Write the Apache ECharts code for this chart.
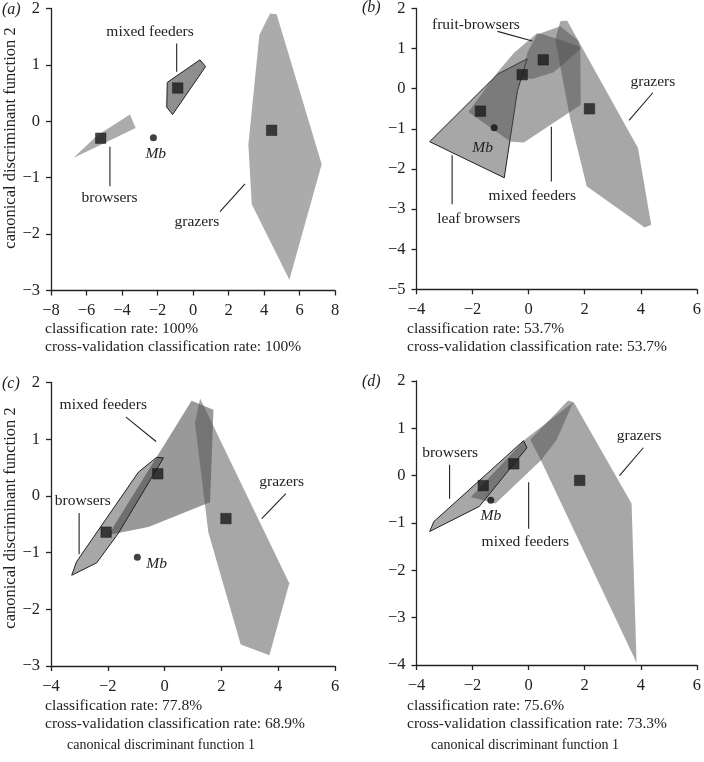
<!DOCTYPE html>
<html><head><meta charset="utf-8">
<script src="https://cdn.jsdelivr.net/npm/echarts@6/dist/echarts.min.js"></script>
<style>html,body{margin:0;padding:0;background:#fff}#c{width:704px;height:762px}</style>
</head><body><div id="c"></div>
<script>
// ---------- DATA ----------
// Panel (a)
var aBrowsers = [[-6.74,-0.65],[-5.4,-0.25],[-3.55,0.12],[-3.23,-0.12]];
var aMixed = [[-1.45,0.69],[0.39,1.09],[0.71,0.97],[-1.15,0.12],[-1.48,0.25]];
var aGrazers = [[4.34,1.91],[4.71,1.90],[7.25,-0.76],[5.43,-2.81],[3.31,-1.47],[3.12,-0.41],[3.74,1.53]];
var aCentroids = [[-5.2,-0.3],[-0.86,0.59],[4.43,-0.16]];
var aMb = [[-2.23,-0.29]];
// Panel (b)
var bLeaf = [[-3.53,-1.32],[-1.11,0.36],[-0.05,0.75],[-0.40,-0.05],[-0.87,-2.22]];
var bMixed = [[-2.15,-0.58],[-1.11,0.41],[-0.52,0.90],[0.30,1.38],[0.54,1.35],[1.84,1.05],[1.86,-0.40],[-0.17,-1.34],[-0.64,-1.32]];
var bFruit = [[-0.23,0.28],[0.13,0.24],[0.89,0.41],[1.84,0.98],[1.78,1.19],[1.13,1.56],[0.30,1.35],[-0.05,0.90]];
var bGrazers = [[1.13,1.68],[1.37,1.70],[3.90,-1.48],[4.37,-3.39],[4.14,-3.46],[2.07,-2.43],[1.48,-0.74],[0.95,1.23]];
var bCentroids = [[-1.72,-0.56],[-0.23,0.35],[0.52,0.72],[2.17,-0.50]];
var bMb = [[-1.23,-0.97]];
// Panel (c)
var cBrowsers = [[-3.27,-1.40],[-3.10,-1.16],[-0.92,0.42],[-0.28,0.68],[-0.04,0.67],[-1.63,-0.66],[-2.39,-1.18]];
var cMixed = [[-1.98,-0.69],[0.95,1.68],[1.72,1.52],[1.60,-0.11],[-0.57,-0.55]];
var cGrazers = [[1.25,1.72],[4.39,-1.54],[3.69,-2.81],[2.68,-2.62],[1.54,-0.64],[1.07,1.28]];
var cCentroids = [[-2.06,-0.64],[-0.24,0.39],[2.16,-0.40]];
var cMb = [[-0.96,-1.08]];
// Panel (d)
var dBrowsers = [[-3.53,-1.18],[-3.38,-0.97],[-0.18,0.74],[-0.06,0.59],[-1.76,-0.65]];
var dMixed = [[-2.06,-0.45],[-0.1,0.78],[1.59,1.55],[1.0,0.76],[0.45,0.33],[-1.18,-0.59]];
var dGrazers = [[0.06,0.76],[1.41,1.59],[1.61,1.55],[3.67,-0.59],[3.85,-3.95],[0.41,0.36]];
var dCentroids = [[-1.62,-0.21],[-0.53,0.25],[1.82,-0.10]];
var dMb = [[-1.35,-0.52]];

// Labels: [x, y, text]
var aLabels = [[-2.42,1.59,'mixed feeders'],[-4.7,-1.35,'browsers'],[0.22,-1.78,'grazers'],[-2.1,-0.58,'Mb']];
var bLabels = [[-1.88,1.60,'fruit-browsers'],[4.43,0.16,'grazers'],[0.13,-2.68,'mixed feeders'],[-1.78,-3.25,'leaf browsers'],[-1.64,-1.48,'Mb']];
var cLabels = [[-2.16,1.60,'mixed feeders'],[-2.88,-0.08,'browsers'],[4.12,0.25,'grazers'],[-0.28,-1.2,'Mb']];
var dLabels = [[-2.80,0.49,'browsers'],[-0.12,-1.40,'mixed feeders'],[3.94,0.83,'grazers'],[-1.35,-0.86,'Mb']];
// Leader lines
var aLeaders = [[[-0.92,1.38],[-0.92,0.88]],[[-4.68,-0.45],[-4.68,-1.15]],[[2.93,-1.11],[1.52,-1.60]]];
var bLeaders = [[[-1.11,1.43],[0.13,1.19]],[[4.43,-0.10],[3.58,-0.79]],[[0.81,-0.95],[0.81,-2.31]],[[-2.73,-1.66],[-2.73,-2.88]]];
var cLeaders = [[[-1.36,1.39],[-0.30,0.96]],[[-3.01,-0.30],[-3.01,-1.03]],[[4.27,0.04],[3.42,-0.40]]];
var dLeaders = [[[-2.82,0.23],[-2.82,-0.49]],[[0,-0.14],[0,-1.12]],[[4.09,0.59],[3.24,0.0]]];

// Axis ranges
var xRanges = [[-8,8,2],[-4,6,2],[-4,6,2],[-4,6,2]];
var yRanges = [[-3,2,1],[-5,2,1],[-3,2,1],[-4,2,1]];
var panelTags = ['(a)','(b)','(c)','(d)'];
var rateTexts = [
  ['classification rate: 100%','cross-validation classification rate: 100%'],
  ['classification rate: 53.7%','cross-validation classification rate: 53.7%'],
  ['classification rate: 77.8%','cross-validation classification rate: 68.9%'],
  ['classification rate: 75.6%','cross-validation classification rate: 73.3%']
];
var yTitle = 'canonical discriminant function 2';
var xTitle = 'canonical discriminant function 1';

// ---------- LAYOUT ----------
var FONT = '"Liberation Serif","DejaVu Serif",serif';
var grids = [
  {left:51, top:7.5, width:284, height:283},
  {left:416.5, top:5, width:283.5, height:284.3},
  {left:51, top:382.5, width:284, height:283.5},
  {left:416.5, top:381, width:283.5, height:284}
];
function minus(v){ return String(v).replace('-', '\u2212'); }

var xAxes = [], yAxes = [], series = [];
function axisStyle(m){
  return {
    axisLine:{show:true, onZero:false, lineStyle:{color:'#222', width:1.3}},
    axisTick:{show:true, inside:false, length:5, lineStyle:{color:'#222', width:1.3}},
    splitLine:{show:false},
    axisLabel:{color:'#222', fontFamily:FONT, fontSize:16.5, margin:m, formatter:minus}
  };
}
for (var i=0;i<4;i++){
  xAxes.push(Object.assign({type:'value', gridIndex:i, min:xRanges[i][0], max:xRanges[i][1], interval:xRanges[i][2]}, axisStyle(12)));
  yAxes.push(Object.assign({type:'value', gridIndex:i, min:yRanges[i][0], max:yRanges[i][1], interval:yRanges[i][2]}, axisStyle(11)));
}

function poly(gi, pts, fill, stroke, z){
  return {type:'custom', xAxisIndex:gi, yAxisIndex:gi, data:pts, silent:true, z:z||2,
    renderItem:function(params, api){
      if (params.dataIndex!==0) return null;
      var p = pts.map(function(v){ return api.coord(v); });
      return {type:'polygon', shape:{points:p}, style:{fill:fill, stroke:stroke||null, lineWidth:stroke?1:0}};
    }};
}
function leaders(gi, segs){
  segs.forEach(function(s){
    series.push({type:'line', xAxisIndex:gi, yAxisIndex:gi, data:s, symbol:'none', silent:true, z:5,
      lineStyle:{color:'#222', width:1.1}});
  });
}
function labels(gi, arr){
  series.push({type:'custom', xAxisIndex:gi, yAxisIndex:gi, data:arr.map(function(a){return [a[0],a[1]];}), silent:true, z:6,
    renderItem:function(params, api){
      var a = arr[params.dataIndex];
      var c = api.coord([a[0],a[1]]);
      return {type:'text', x:c[0], y:c[1], style:{text:a[2], fill:'#222', fontFamily:FONT, fontSize:15.5,
        fontStyle: a[2]==='Mb' ? 'italic' : 'normal', align:'center', verticalAlign:'middle'}};
    }});
}
function points(gi, cents, mb){
  series.push({type:'scatter', xAxisIndex:gi, yAxisIndex:gi, data:cents, symbol:'rect', symbolSize:10.5, silent:true, z:7,
    itemStyle:{color:'#1c1c1c', borderColor:'#111', borderWidth:0.5}});
  series.push({type:'scatter', xAxisIndex:gi, yAxisIndex:gi, data:mb, symbol:'circle', symbolSize:7, silent:true, z:7,
    itemStyle:{color:'#111'}});
}

var T = 'rgba(80,80,80,0.5)';
// (a)
series.push(poly(0, aBrowsers, '#ababab'));
series.push(poly(0, aGrazers, '#ababab'));
series.push(poly(0, aMixed, '#8e8e8e', '#222', 3));
leaders(0, aLeaders); labels(0, aLabels); points(0, aCentroids, aMb);
// (b)
series.push(poly(1, bLeaf, T, '#222', 2));
series.push(poly(1, bMixed, T, null, 2));
series.push(poly(1, bFruit, T, null, 2));
series.push(poly(1, bGrazers, T, null, 2));
leaders(1, bLeaders); labels(1, bLabels); points(1, bCentroids, bMb);
// (c)
series.push(poly(2, cMixed, 'rgba(60,60,60,0.52)', null, 2));
series.push(poly(2, cGrazers, T, null, 2));
series.push(poly(2, cBrowsers, 'rgba(60,60,60,0.45)', '#222', 3));
leaders(2, cLeaders); labels(2, cLabels); points(2, cCentroids, cMb);
// (d)
series.push(poly(3, dMixed, T, null, 2));
series.push(poly(3, dGrazers, T, null, 2));
series.push(poly(3, dBrowsers, 'rgba(60,60,60,0.45)', '#222', 3));
leaders(3, dLeaders); labels(3, dLabels); points(3, dCentroids, dMb);

// text graphics
var g = [];
var tagPos = [[10,10],[370,8],[10,384],[370,382]];
var ratePos = [[45,329],[407,329],[45,706],[407,706]];
for (var k=0;k<4;k++){
  g.push({type:'text', left:tagPos[k][0]-8, top:tagPos[k][1]-8, style:{text:panelTags[k], fontFamily:FONT, fontSize:16, fontStyle:'italic', fill:'#222'}});
  g.push({type:'text', left:ratePos[k][0], top:ratePos[k][1]-8, style:{text:rateTexts[k][0], fontFamily:FONT, fontSize:15.5, fill:'#222'}});
  g.push({type:'text', left:ratePos[k][0], top:ratePos[k][1]+10, style:{text:rateTexts[k][1], fontFamily:FONT, fontSize:15.5, fill:'#222'}});
}
g.push({type:'text', x:11, y:138, rotation:Math.PI/2, style:{text:yTitle, fontFamily:FONT, fontSize:16.5, fill:'#222', align:'center', verticalAlign:'middle'}});
g.push({type:'text', x:11, y:518, rotation:Math.PI/2, style:{text:yTitle, fontFamily:FONT, fontSize:16.5, fill:'#222', align:'center', verticalAlign:'middle'}});
g.push({type:'text', x:161, y:745, style:{text:xTitle, fontFamily:FONT, fontSize:14, fill:'#222', align:'center', verticalAlign:'middle'}});
g.push({type:'text', x:525, y:745, style:{text:xTitle, fontFamily:FONT, fontSize:14, fill:'#222', align:'center', verticalAlign:'middle'}});

var chart = echarts.init(document.getElementById('c'), null, {renderer:'canvas'});
chart.setOption({
  animation:false,
  backgroundColor:'#fff',
  grid:grids,
  xAxis:xAxes, yAxis:yAxes,
  series:series,
  graphic:g
});
</script></body></html>
